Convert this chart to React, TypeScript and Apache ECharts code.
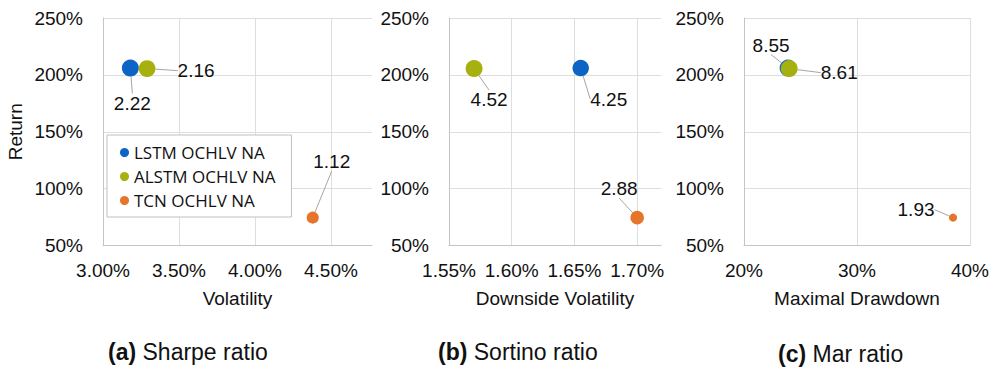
import React, { useEffect, useRef } from 'react';
import * as echarts from 'echarts';

// Models compared in each panel
const models = ['LSTM OCHLV NA', 'ALSTM OCHLV NA', 'TCN OCHLV NA'];
const modelColors = ['#0D64C4', '#A6B00E', '#E6742A'];

// Annual return (%) of each model
const returns = [206, 205.5, 74.5];

// (a) Sharpe ratio
const volatility = [3.18, 3.29, 4.38];
const sharpe = [2.22, 2.16, 1.12];

// (b) Sortino ratio
const downsideVolatility = [1.655, 1.57, 1.7];
const sortino = [4.25, 4.52, 2.88];

// (c) Mar ratio
const maximalDrawdown = [23.9, 24.0, 38.5];
const mar = [8.55, 8.61, 1.93];

const axisTitles = ['Volatility', 'Downside Volatility', 'Maximal Drawdown'];
const captionTags = ['(a)', '(b)', '(c)'];
const captionTexts = ['Sharpe ratio', 'Sortino ratio', 'Mar ratio'];

const FONT = '"Liberation Sans", Arial, Helvetica, sans-serif';
const TEXT = '#111111';

// Panel geometry
const grids = [
  { left: 103, top: 18, width: 269, height: 227.5 },
  { left: 449, top: 18, width: 212, height: 227.5 },
  { left: 744, top: 18, width: 226, height: 227.5 },
];

const xScales = [
  { min: 3, max: 4.77, interval: 0.5, digits: 2, last: 4.5 },
  { min: 1.55, max: 1.719, interval: 0.05, digits: 2, last: 1.7 },
  { min: 20, max: 40, interval: 10, digits: 0, last: 40 },
];

// label offsets (dx, dy) from the bubble centre, per panel and model
const labelOffsets = [
  [[2, 35], [49, 2], [19, -56]],
  [[28, 31], [15, 31], [-18, -29]],
  [[-17, -23], [50, 4], [-37, -8]],
];

const captionLeft = [108, 438, 778];
const captionTop = [340, 340, 342];

export default function App() {
  const ref = useRef<HTMLDivElement>(null);

  useEffect(() => {
    if (!ref.current) return;
    const chart = echarts.init(ref.current, undefined, { renderer: 'svg' });

    const xs = [volatility, downsideVolatility, maximalDrawdown];
    const ratios = [sharpe, sortino, mar];

    const series: any[] = [];
    xs.forEach((xv, p) => {
      const maxRatio = Math.max(...ratios[p]);
      models.forEach((name, m) => {
        const r = ratios[p][m];
        const [dx, dy] = labelOffsets[p][m];
        series.push({
          type: 'scatter',
          name,
          xAxisIndex: p,
          yAxisIndex: p,
          data: [[xv[m], returns[m], r]],
          symbol: 'circle',
          symbolSize: 17 * Math.sqrt(r / maxRatio),
          itemStyle: { color: modelColors[m], opacity: 1 },
          z: 2 + m,
          label: {
            show: true,
            position: 'inside',
            color: TEXT,
            fontFamily: FONT,
            fontSize: 19,
            formatter: (prm: any) => prm.value[2].toFixed(2),
          },
          labelLayout: { dx, dy },
          labelLine: {
            show: true,
            lineStyle: { color: '#a6a6a6', width: 1 },
          },
          emphasis: { disabled: true },
        });
      });
    });

    const axisLine = { show: true, lineStyle: { color: '#c4c4c4', width: 1 } };
    const splitLine = { show: true, lineStyle: { color: '#dedede', width: 1 } };

    chart.setOption({
      animation: false,
      grid: grids.map((g) => ({ ...g, containLabel: false })),
      legend: {
        data: models,
        orient: 'vertical',
        left: 107,
        top: 135,
        icon: 'circle',
        itemWidth: 9,
        itemHeight: 9,
        itemGap: 7,
        padding: [9, 16, 8, 13],
        backgroundColor: '#ffffff',
        borderColor: '#c0c0c0',
        borderWidth: 1,
        borderRadius: 0,
        textStyle: {
          fontFamily: '"Open Sans", "Noto Sans", sans-serif',
          fontSize: 17,
          lineHeight: 17,
          color: TEXT,
        },
        selectedMode: false,
      },
      xAxis: xScales.map((s, p) => ({
        type: 'value',
        gridIndex: p,
        min: s.min,
        max: s.max,
        interval: s.interval,
        name: axisTitles[p],
        nameLocation: 'middle',
        nameGap: 43,
        nameTextStyle: { fontFamily: FONT, fontSize: 19, color: TEXT },
        axisLine,
        axisTick: { show: false },
        splitLine: { ...splitLine, showMaxLine: s.max === s.last },
        axisLabel: {
          margin: 15,
          fontFamily: FONT,
          fontSize: 19,
          color: TEXT,
          formatter: (v: number) => {
            const k = (v - s.min) / s.interval;
            if (Math.abs(k - Math.round(k)) > 1e-6 || v > s.last + 1e-9) return '';
            return v.toFixed(s.digits) + '%';
          },
        },
      })),
      yAxis: grids.map((_, p) => ({
        type: 'value',
        gridIndex: p,
        min: 50,
        max: 250,
        interval: 50,
        name: p === 0 ? 'Return' : '',
        nameLocation: 'middle',
        nameGap: 78,
        nameTextStyle: { fontFamily: FONT, fontSize: 19, color: TEXT },
        axisLine,
        axisTick: { show: false },
        splitLine,
        axisLabel: {
          margin: 20,
          fontFamily: FONT,
          fontSize: 19,
          color: TEXT,
          formatter: '{value}%',
        },
      })),
      series,
      graphic: captionTags.map((tag, i) => ({
        type: 'text',
        left: captionLeft[i],
        top: captionTop[i],
        style: {
          text: `{b|${tag}} ${captionTexts[i]}`,
          fontFamily: FONT,
          fontSize: 23,
          fill: TEXT,
          rich: {
            b: { fontFamily: FONT, fontSize: 23, fontWeight: 'bold', fill: TEXT },
          },
        },
      })),
    });

    return () => chart.dispose();
  }, []);

  return (
    <div
      ref={ref}
      style={{ position: 'fixed', left: 0, top: 0, width: 992, height: 372, background: '#ffffff' }}
    />
  );
}
